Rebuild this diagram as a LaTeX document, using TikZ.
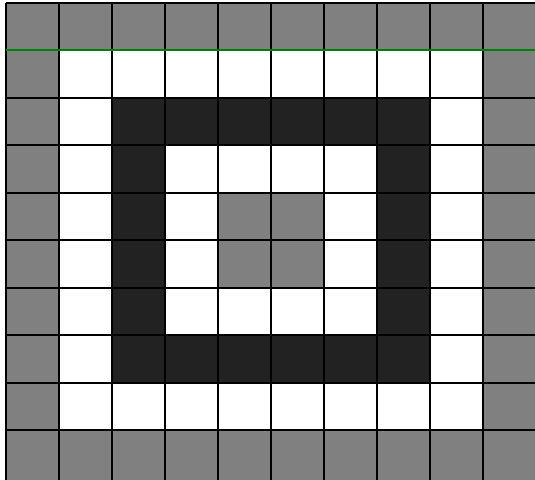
\documentclass[tikz,border=0pt]{standalone}
\definecolor{cellgray}{RGB}{128,128,128}
\definecolor{celldark}{RGB}{34,34,34}
\definecolor{linegreen}{RGB}{0,128,0}
\begin{document}
\begin{tikzpicture}[x=1pt,y=-1pt,
  gridline/.style={line width=2pt,black},
  markline/.style={line width=2pt,linegreen}]
\useasboundingbox (0,0) rectangle (535,479);
\def\cw{53}
\def\ch{47.45}
\def\ox{5.5}
\def\oy{3}
% nested filled rectangles
\fill[cellgray] (\ox,\oy) rectangle ({\ox+10*\cw},482);
\fill[white] ({\ox+1*\cw},{\oy+1*\ch}) rectangle ({\ox+9*\cw},{\oy+9*\ch});
\fill[celldark] ({\ox+2*\cw},{\oy+2*\ch}) rectangle ({\ox+8*\cw},{\oy+8*\ch});
\fill[white] ({\ox+3*\cw},{\oy+3*\ch}) rectangle ({\ox+7*\cw},{\oy+7*\ch});
\fill[cellgray] ({\ox+4*\cw},{\oy+4*\ch}) rectangle ({\ox+6*\cw},{\oy+6*\ch});
% grid lines
\foreach \i in {0,...,10}{
  \draw[gridline] ({\ox+\i*\cw},\oy) -- ({\ox+\i*\cw},482);
}
\foreach \i in {0,...,9}{
  \draw[gridline] (\ox,{\oy+\i*\ch}) -- ({\ox+10*\cw},{\oy+\i*\ch});
}
% green line
\coordinate (gl) at (\ox,{\oy+\ch});
\coordinate (gr) at ({\ox+10*\cw},{\oy+\ch});
\draw[markline] (gl) -- (gr);
\end{tikzpicture}
\end{document}
